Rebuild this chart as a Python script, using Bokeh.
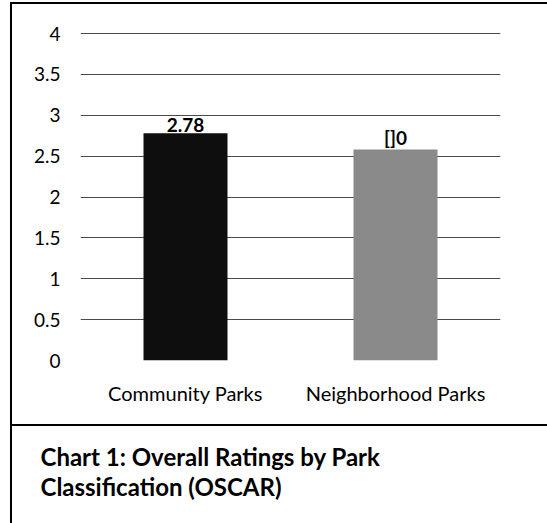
from bokeh.plotting import figure
from bokeh.layouts import column
from bokeh.models import ColumnDataSource, LabelSet, Label, FixedTicker, FactorRange, Range1d
from bokeh.core.properties import value
from bokeh.embed import file_html
from bokeh.resources import INLINE

categories = ["Community Parks", "Neighborhood Parks"]
ratings = [2.78, 2.58]
value_labels = ["2.78", "[]0"]
bar_colors = ["#0e0e0e", "#8a8a8a"]
y_ticks = [0, 0.5, 1, 1.5, 2, 2.5, 3, 3.5, 4]
caption_lines = ["Chart 1: Overall Ratings by Park", "Classification (OSCAR)"]

FONT = "Lato"

src = ColumnDataSource(dict(cat=categories, val=ratings, lab=value_labels, col=bar_colors))

p = figure(width=537, height=424, x_range=FactorRange(*categories), y_range=Range1d(0, 4.196),
           output_backend="svg", toolbar_location=None,
           min_border_left=68, min_border_right=49, min_border_top=13, min_border_bottom=68,
           styles={"border-top": "2px solid black", "border-left": "2px solid black",
                   "border-bottom": "2px solid black", "margin-left": "10px", "margin-top": "2px"})
p.frame_align = False
p.outline_line_color = None
p.background_fill_color = "white"
p.border_fill_color = "white"
p.x_range.range_padding = 0

p.vbar(x="cat", top="val", width=0.4, fill_color="col", line_color=None, source=src)

p.add_layout(LabelSet(x="cat", y="val", text="lab", source=src, text_align="center",
                      text_baseline="bottom", y_offset=1, text_font=value(FONT), text_font_style="bold",
                      text_font_size="19px", text_color="black"))

p.yaxis.ticker = FixedTicker(ticks=y_ticks)
p.yaxis.axis_line_color = None
p.yaxis.major_tick_line_color = None
p.yaxis.minor_tick_line_color = None
p.yaxis.major_label_standoff = 14
p.yaxis.major_label_text_font = FONT
p.yaxis.major_label_text_font_size = "19px"
p.yaxis.major_label_text_color = "black"

p.xaxis.axis_line_color = None
p.xaxis.major_tick_line_color = None
p.xaxis.major_label_standoff = 14
p.xaxis.major_label_text_font = FONT
p.xaxis.major_label_text_font_size = "20px"
p.xaxis.major_label_text_color = "black"

p.xgrid.grid_line_color = None
p.ygrid.ticker = FixedTicker(ticks=y_ticks)
p.ygrid.grid_line_color = "#4a4a4a"
p.ygrid.grid_line_width = 1

# caption panel: frame fills the whole canvas
cap = figure(width=537, height=98, x_range=Range1d(0, 1), y_range=Range1d(0, 1),
             output_backend="svg", toolbar_location=None,
             x_axis_location=None, y_axis_location=None,
             min_border_left=0, min_border_right=0, min_border_top=0, min_border_bottom=0,
             styles={"border-left": "2px solid black", "margin-left": "10px"})
cap.frame_align = False
cap.outline_line_color = None
cap.grid.grid_line_color = None
cap.background_fill_color = "white"
cap.border_fill_color = "white"
for i, t in enumerate(caption_lines):
    cap.add_layout(Label(x=28, y=68 - 30 * i, x_units="screen", y_units="screen", text=t,
                         text_baseline="middle", text_font=FONT, text_font_style="bold",
                         text_font_size="24px", text_color="black"))

layout = column(p, cap, spacing=0)
open("out.html", "w").write(file_html(layout, INLINE))
